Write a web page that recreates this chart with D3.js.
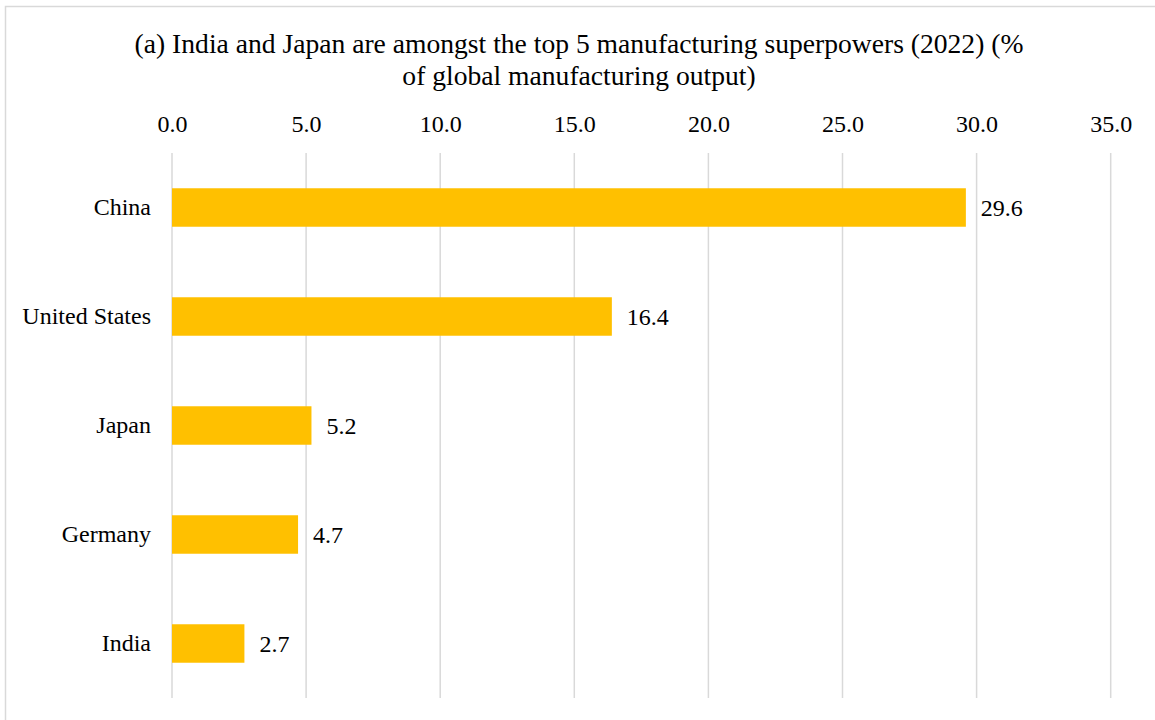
<!DOCTYPE html>
<html><head><meta charset="utf-8">
<script src="https://cdn.jsdelivr.net/npm/d3@7"></script>
<style>
html,body{margin:0;padding:0;background:#fff;}
</style></head>
<body>
<svg id="chart" width="1155" height="720"></svg>
<script>
const titleLines = ["(a) India and Japan are amongst the top 5 manufacturing superpowers (2022) (%", "of global manufacturing output)"];
const categories = ["China", "United States", "Japan", "Germany", "India"];
const values = [29.6, 16.4, 5.2, 4.7, 2.7];
const tickValues = [0, 5, 10, 15, 20, 25, 30, 35];

const FONT = "'Liberation Serif','Times New Roman',serif";
const svg = d3.select("#chart").attr("font-family", FONT);
svg.append("rect").attr("x", 5.5).attr("y", 6.5).attr("width", 1160).attr("height", 720)
  .attr("fill", "#fff").attr("stroke", "#d9d9d9").attr("stroke-width", 1.5);

const x = d3.scaleLinear().domain([0, 35]).range([172, 1110.7]);
const y = d3.scaleBand().domain(categories).range([153, 698]).paddingInner(0.647).paddingOuter(0.3235);

svg.selectAll("text.title").data(titleLines).enter().append("text")
  .attr("class", "title")
  .attr("x", 579).attr("y", (d, i) => 53 + i * 32)
  .attr("text-anchor", "middle").attr("font-family", FONT).attr("font-size", 27.6).attr("fill", "#000").text(d => d);

// gridlines
svg.append("g").selectAll("line").data(tickValues).enter().append("line")
  .attr("x1", d => x(d)).attr("x2", d => x(d)).attr("y1", 153).attr("y2", 698)
  .attr("stroke", "#d9d9d9").attr("stroke-width", 1.5);

// top axis
const ax = svg.append("g").attr("transform", "translate(0,132)")
  .call(d3.axisTop(x).tickValues(tickValues).tickFormat(d3.format(".1f")).tickSize(0).tickPadding(0));
ax.attr("font-family", FONT).attr("font-size", 24);
ax.select(".domain").remove();
ax.selectAll("text").attr("fill", "#000");

// left axis labels
const ay = svg.append("g").attr("transform", "translate(151,0)")
  .call(d3.axisLeft(y).tickSize(0).tickPadding(0));
ay.attr("font-family", FONT).attr("font-size", 24);
ay.select(".domain").remove();
ay.selectAll("text").attr("fill", "#000");

svg.append("g").selectAll("rect").data(categories).enter().append("rect")
  .attr("x", x(0)).attr("y", d => y(d)).attr("height", y.bandwidth())
  .attr("width", (d, i) => x(values[i]) - x(0)).attr("fill", "#ffc000");

svg.append("g").selectAll("text").data(categories).enter().append("text")
  .attr("x", (d, i) => x(values[i]) + 15).attr("y", d => y(d) + y.bandwidth() / 2)
  .attr("dy", "0.35em").attr("font-family", FONT).attr("font-size", 24).attr("fill", "#000")
  .text((d, i) => values[i].toFixed(1));
</script>
</body></html>
